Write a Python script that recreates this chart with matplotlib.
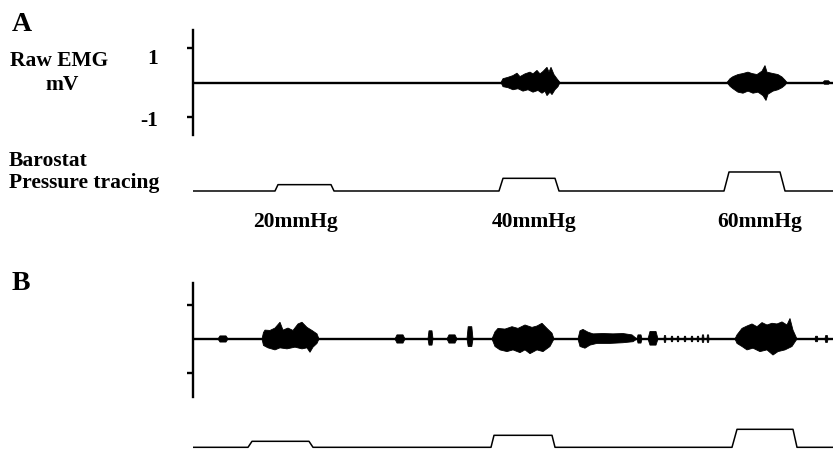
"""Raw EMG vs barostat pressure steps (panels A and B)."""

import matplotlib
matplotlib.use("Agg")
import matplotlib.pyplot as plt

plt.rcParams["font.family"] = ["Liberation Serif", "DejaVu Serif"]
plt.rcParams["font.weight"] = "bold"

T_END = 640  # s shown on each trace

# ------------------------------------------------------------------
# Panel A: EMG burst envelopes (time s, mV)
# ------------------------------------------------------------------
a40_up_t = [308, 310, 315, 320, 324, 327, 332, 337, 340, 344, 347, 350, 354, 356, 358, 361, 364, 367]
a40_up   = [0, .11, .15, .20, .27, .17, .25, .30, .25, .35, .25, .32, .44, .30, .44, .23, .11, 0]
a40_lo_t = [308, 310, 315, 320, 325, 330, 335, 340, 345, 349, 352, 354, 357, 359, 362, 365, 367]
a40_lo   = [0, -.12, -.15, -.21, -.18, -.25, -.21, -.28, -.23, -.31, -.25, -.38, -.28, -.35, -.21, -.12, 0]

a60_up_t = [534, 537, 540, 545, 550, 555, 559, 564, 569, 572, 574, 580, 585, 589, 592, 594]
a60_up   = [0, .11, .17, .23, .26, .30, .26, .23, .33, .49, .30, .26, .23, .16, .07, 0]
a60_lo_t = [534, 537, 540, 545, 550, 555, 560, 565, 570, 573, 575, 580, 585, 589, 592, 594]
a60_lo   = [0, -.11, -.18, -.28, -.31, -.25, -.31, -.28, -.38, -.52, -.34, -.25, -.21, -.15, -.08, 0]

# small isolated blips: start, end, upper, lower
a_blip_t0 = [630]
a_blip_t1 = [637]
a_blip_up = [.05]
a_blip_lo = [-.05]

# ------------------------------------------------------------------
# Panel B: EMG burst envelopes
# ------------------------------------------------------------------
b20_up_t = [69, 70.5, 72, 77, 82, 87, 90, 95, 100, 105, 109, 114, 119, 124, 126]
b20_up   = [0, .19, .26, .25, .32, .49, .26, .32, .25, .44, .49, .34, .25, .15, 0]
b20_lo_t = [69, 70.5, 75, 82, 87, 94, 102, 109, 114, 117, 120, 124, 126]
b20_lo   = [0, -.19, -.26, -.32, -.26, -.29, -.24, -.29, -.26, -.39, -.24, -.13, 0]

b40_up_t = [299, 302, 305, 312, 319, 325, 332, 339, 344, 349, 354, 359, 361]
b40_up   = [0, .21, .31, .29, .36, .31, .41, .34, .38, .46, .31, .17, 0]
b40_lo_t = [299, 302, 307, 314, 320, 327, 332, 337, 344, 350, 357, 361]
b40_lo   = [0, -.22, -.32, -.37, -.32, -.40, -.32, -.43, -.32, -.37, -.22, 0]

bmid_up_t = [385, 387, 390, 395, 400, 410, 420, 430, 439, 444]
bmid_up   = [0, .24, .28, .20, .15, .16, .15, .16, .12, 0]
bmid_lo_t = [385, 387, 392, 397, 404, 417, 430, 440, 444]
bmid_lo   = [0, -.22, -.27, -.18, -.13, -.13, -.11, -.08, 0]

b60_up_t = [542, 544, 549, 554, 559, 564, 569, 574, 579, 584, 589, 594, 597, 600, 604]
b60_up   = [0, .12, .31, .38, .44, .36, .48, .41, .46, .44, .50, .41, .60, .26, 0]
b60_lo_t = [542, 544, 549, 554, 560, 567, 574, 580, 585, 592, 599, 604]
b60_lo   = [0, -.13, -.22, -.32, -.27, -.37, -.32, -.47, -.37, -.32, -.22, 0]

b_blip_t0 = [25, 202, 235, 254, 274, 444, 455, 471, 478, 484, 491, 498, 504, 509, 514, 622, 632]
b_blip_t1 = [35, 212, 240, 264, 280, 449, 465, 473, 480, 486, 493, 500, 506, 511, 516, 625, 635]
b_blip_up = [.09, .12, .24, .12, .36, .12, .22, .10, .08, .08, .08, .08, .08, .12, .12, .08, .10]
b_blip_lo = [-.09, -.12, -.18, -.12, -.22, -.12, -.18, -.10, -.08, -.08, -.08, -.08, -.08, -.10, -.10, -.08, -.10]

# low-level background activity (thickened baseline)
b_noise_t0 = [126, 212, 362]
b_noise_t1 = [200, 300, 385]
b_noise_amp = [.035, .025, .035]

# ------------------------------------------------------------------
# Barostat steps (s) and pressure (mmHg)
# ------------------------------------------------------------------
pressures = [20, 40, 60]
pressure_labels = ["20mmHg", "40mmHg", "60mmHg"]
a_rise0 = [82, 306, 531]
a_rise1 = [85, 310, 536]
a_fall0 = [138, 362, 587]
a_fall1 = [141, 366, 592]
b_rise0 = [55, 298, 539]
b_rise1 = [59, 301, 544]
b_fall0 = [116, 359, 600]
b_fall1 = [120, 362, 604]

emg_ticks = [-1, 1]
emg_tick_labels = ["-1", "1"]

W, H = 833, 451
fig = plt.figure(figsize=(W / 100, H / 100), dpi=100)


def px_axes(top, bottom, left=193, right=833):
    return fig.add_axes([left / W, 1 - bottom / H, (right - left) / W, (bottom - top) / H])


def emg_axes(top, bottom, ylim):
    ax = px_axes(top, bottom)
    ax.set_xlim(0, T_END)
    ax.set_ylim(*ylim)
    for s in ["top", "right", "bottom"]:
        ax.spines[s].set_visible(False)
    ax.spines["left"].set_linewidth(1.7)
    ax.set_xticks([])
    ax.set_yticks(emg_ticks)
    ax.tick_params(axis="y", direction="out", length=4, width=1.7, labelleft=False)
    ax.patch.set_alpha(0)
    ax.plot([0, T_END], [0, 0], color="black", lw=1.7, solid_capstyle="butt")
    return ax


def burst(ax, up_t, up, lo_t, lo):
    ax.fill(list(up_t) + lo_t[::-1], list(up) + lo[::-1], color="black", lw=0.6)


def blips(ax, t0s, t1s, ups, los):
    for t0, t1, u, l in zip(t0s, t1s, ups, los):
        w = t1 - t0
        xs = [t0, t0 + 0.2 * w, t1 - 0.2 * w, t1, t1 - 0.2 * w, t0 + 0.2 * w]
        ys = [0, u, u, 0, l, l]
        ax.fill(xs, ys, color="black", lw=0.6)


def baro_axes(top, bottom, ylim, r0, r1, f0, f1):
    ax = px_axes(top, bottom)
    ax.set_xlim(0, T_END)
    ax.set_ylim(*ylim)
    ax.axis("off")
    xs, ys = [0], [0]
    for a, b, c, d, p in zip(r0, r1, f0, f1, pressures):
        xs += [a, b, c, d]
        ys += [0, p, p, 0]
    xs.append(T_END)
    ys.append(0)
    ax.plot(xs, ys, color="black", lw=1.1)
    return ax


# Panel A
axA = emg_axes(30, 135, (-1.52, 1.52))
burst(axA, a40_up_t, a40_up, a40_lo_t, a40_lo)
burst(axA, a60_up_t, a60_up, a60_lo_t, a60_lo)
blips(axA, a_blip_t0, a_blip_t1, a_blip_up, a_blip_lo)
baro_axes(160, 200, (-28.4, 97.8), a_rise0, a_rise1, a_fall0, a_fall1)

# Panel B
axB = emg_axes(283, 397, (-1.70, 1.64))
for t0, t1, amp in zip(b_noise_t0, b_noise_t1, b_noise_amp):
    axB.fill_between([t0, t1], [-amp, -amp], [amp, amp], color="black", lw=0)
burst(axB, b20_up_t, b20_up, b20_lo_t, b20_lo)
burst(axB, b40_up_t, b40_up, b40_lo_t, b40_lo)
burst(axB, bmid_up_t, bmid_up, bmid_lo_t, bmid_lo)
burst(axB, b60_up_t, b60_up, b60_lo_t, b60_lo)
blips(axB, b_blip_t0, b_blip_t1, b_blip_up, b_blip_lo)
baro_axes(415, 451, (-12.3, 107.7), b_rise0, b_rise1, b_fall0, b_fall1)


# text placed in pixel coordinates
def ptext(x, y, s, ha="left", size=15.5):
    fig.text(x / W, 1 - y / H, s, ha=ha, va="baseline", fontsize=size, fontweight="bold")


ptext(12, 31, "A", size=20)
ptext(59, 66, "Raw EMG", ha="center")
ptext(62, 90, "mV", ha="center")
ptext(158, 126, emg_tick_labels[0], ha="right")
ptext(158, 64, emg_tick_labels[1], ha="right")
ptext(9, 166, "Barostat")
ptext(9, 188, "Pressure tracing")
for xc, lab in zip([296, 534, 760], pressure_labels):
    ptext(xc, 227, lab, ha="center")
ptext(12, 290, "B", size=20)

fig.savefig("out.png", dpi=100)
